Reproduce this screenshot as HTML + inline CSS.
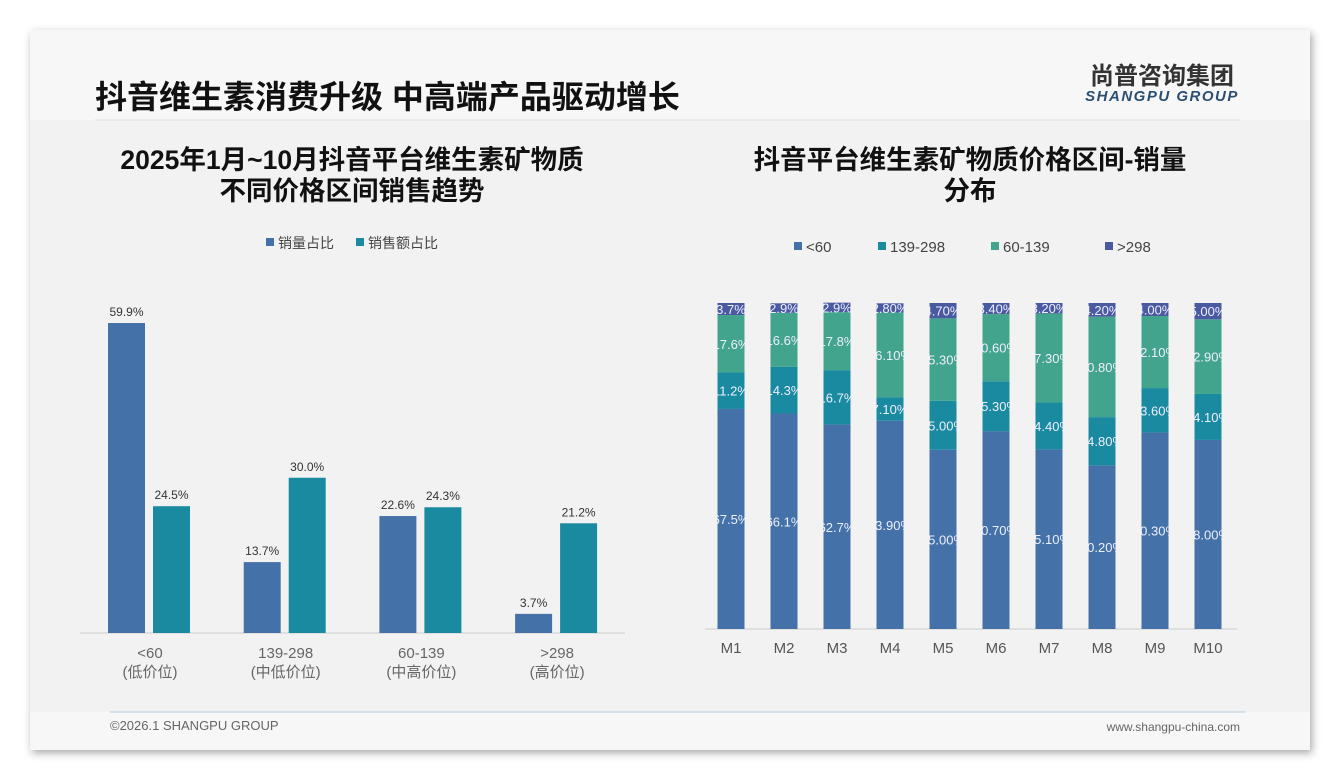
<!DOCTYPE html>
<html><head><meta charset="utf-8"><style>
body{margin:0;width:1340px;height:780px;background:#fff;overflow:hidden;font-family:"Liberation Sans","Noto Sans CJK SC",sans-serif}
#card{position:absolute;left:30px;top:30px;width:1280px;height:720px;background:#f7f7f7;box-shadow:2px 3px 8px rgba(0,0,0,.35)}
</style></head><body>
<div id="card"></div>
<svg width="1340" height="780" style="position:absolute;left:0;top:0" font-family="Liberation Sans, Noto Sans CJK SC, sans-serif">
<rect x="30" y="120" width="1280" height="592" fill="#f2f2f2"/>
<text x="95" y="108" font-size="32" font-weight="bold" fill="#111">抖音维生素消费升级 中高端产品驱动增长</text>
<line x1="95" y1="120" x2="1240" y2="120" stroke="#ddd"/>
<text x="1162" y="84" font-size="24" font-weight="bold" fill="#333" text-anchor="middle">尚普咨询集团</text>
<text x="1162" y="101" font-size="15" font-weight="bold" font-style="italic" fill="#2a4f72" text-anchor="middle" letter-spacing="1.5">SHANGPU GROUP</text>
<line x1="110" y1="712" x2="1245" y2="712" stroke="#b8c8d8"/>
<text x="110" y="730" font-size="13" fill="#666">©2026.1 SHANGPU GROUP</text>
<text x="1240" y="731" font-size="12" fill="#666" text-anchor="end">www.shangpu-china.com</text>
<text x="352" y="169" font-size="26.5" font-weight="bold" fill="#111" text-anchor="middle">2025年1月~10月抖音平台维生素矿物质</text>
<text x="352" y="200" font-size="26.5" font-weight="bold" fill="#111" text-anchor="middle">不同价格区间销售趋势</text>
<text x="970" y="169" font-size="26.5" font-weight="bold" fill="#111" text-anchor="middle">抖音平台维生素矿物质价格区间-销量</text>
<text x="970" y="200" font-size="26.5" font-weight="bold" fill="#111" text-anchor="middle">分布</text>
<g id="left"></g>
<g id="right"></g>
</svg>
<script>
const leftCats=["<60","139-298","60-139",">298"];
const leftSub=["(低价位)","(中低价位)","(中高价位)","(高价位)"];
const volShare=[59.9,13.7,22.6,3.7];
const amtShare=[24.5,30.0,24.3,21.2];
const months=["M1","M2","M3","M4","M5","M6","M7","M8","M9","M10"];
const sLow=[67.5,66.1,62.7,63.9,55.0,60.7,55.1,50.2,60.3,58.0];
const sMid=[11.2,14.3,16.7,7.1,15.0,15.3,14.4,14.8,13.6,14.1];
const sHigh=[17.6,16.6,17.8,26.1,25.3,20.6,27.3,30.8,22.1,22.9];
const sTop=[3.7,2.9,2.9,2.8,4.7,3.4,3.2,4.2,4.0,5.0];
const stackLabels=[["67.5%","11.2%","17.6%","3.7%"],["66.1%","14.3%","16.6%","2.9%"],["62.7%","16.7%","17.8%","2.9%"],["63.90%","7.10%","26.10%","2.80%"],["55.00%","15.00%","25.30%","4.70%"],["60.70%","15.30%","20.60%","3.40%"],["55.10%","14.40%","27.30%","3.20%"],["50.20%","14.80%","30.80%","4.20%"],["60.30%","13.60%","22.10%","4.00%"],["58.00%","14.10%","22.90%","5.00%"]];
const NS="http://www.w3.org/2000/svg";
function mk(p,t,a,txt){const e=document.createElementNS(NS,t);for(const k in a)e.setAttribute(k,a[k]);if(txt!=null)e.textContent=txt;p.appendChild(e);return e;}
const C1="#4472a8",C2="#1a8aa0",C3="#42a48c",C4="#4a5aa0";
const L=document.getElementById('left');
const base=633,ly=v=>base-v*5.175,gx=i=>150+i*135.7;
mk(L,'line',{x1:80,y1:633,x2:625,y2:633,stroke:'#ccc'});
[["销量占比",C1,266],["销售额占比",C2,356]].forEach(([t,c,x])=>{
 const r=mk(L,'rect',{x:x,y:238,width:8,height:8,fill:c});
 
 const tx=mk(L,'text',{x:x+12,y:248,'font-size':14,fill:'#444'},t);
 
});
leftCats.forEach((c,i)=>{
 const cx=gx(i);
 [[volShare[i],C1,cx-42],[amtShare[i],C2,cx+3]].forEach(([v,col,x],j)=>{
  const b=mk(L,'rect',{x:x,y:ly(v),width:37,height:base-ly(v),fill:col});
  
  const t=mk(L,'text',{x:x+18.5,y:ly(v)-7,'font-size':12,fill:'#333','text-anchor':'middle'},v.toFixed(1)+'%');
  
 });
 const a=mk(L,'text',{x:cx,y:658,'font-size':15,fill:'#666','text-anchor':'middle'},c);
 
 const s=mk(L,'text',{x:cx,y:677,'font-size':15,fill:'#666','text-anchor':'middle'},leftSub[i]);
 
});
const R=document.getElementById('right');
const rb=629,sc=3.26,mx=i=>731+i*53.0;
mk(R,'line',{x1:705,y1:629,x2:1237,y2:629,stroke:'#ccc'});
[["<60",C1,794],["139-298",C2,878],["60-139",C3,991],[">298",C4,1105]].forEach(([t,c,x])=>{
 const r=mk(R,'rect',{x:x,y:242,width:8,height:8,fill:c});
 
 const tx=mk(R,'text',{x:x+12,y:252,'font-size':15,fill:'#444'},t);
 
});
const defs=mk(R,'defs',{});
months.forEach((m,i)=>{
 const x=mx(i)-13.5,w=27;
 const cp=mk(defs,'clipPath',{id:'cp'+i});mk(cp,'rect',{x:x,y:280,width:w,height:360});
 const vals=[sLow[i],sMid[i],sHigh[i],sTop[i]],cols=[C1,C2,C3,C4],nm=['seg-low','seg-mid','seg-high','seg-top'];
 let acc=0;
 vals.forEach((v,k)=>{
  const y0=rb-acc*sc,y1=rb-(acc+v)*sc;
  const r=mk(R,'rect',{x:x,y:y1,width:w,height:y0-y1,fill:cols[k]});
  
  const t=mk(R,'text',{x:mx(i),y:(y0+y1)/2+5,'font-size':13,fill:'#eef','text-anchor':'middle','clip-path':'url(#cp'+i+')'},stackLabels[i][k]);
  
  acc+=v;
 });
 const a=mk(R,'text',{x:mx(i),y:653,'font-size':15,fill:'#555','text-anchor':'middle'},m);
 
});
</script>
</body></html>
